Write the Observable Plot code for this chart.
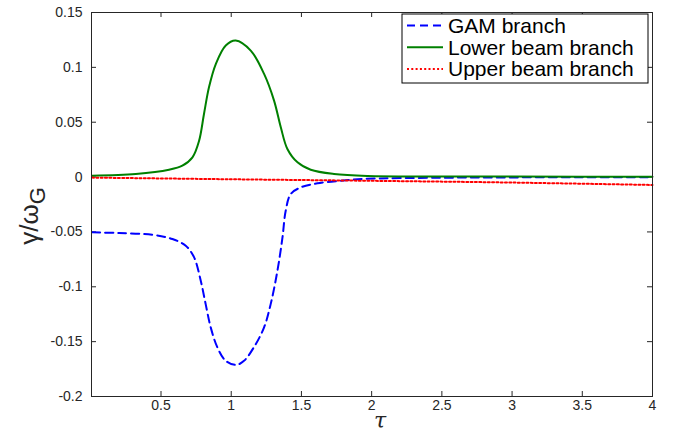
<!DOCTYPE html>
<html>
<head>
<meta charset="utf-8">
<script src="https://cdn.jsdelivr.net/npm/d3@7"></script>
<script src="https://cdn.jsdelivr.net/npm/@observablehq/plot@0.6"></script>
<style>
  html, body { margin: 0; padding: 0; background: #fff; }
  svg { display: block; }
</style>
</head>
<body>
<div id="chart"></div>
<script>
// ---- data ----
const gamTau = [0.01,0.2,0.439,0.581,0.676,0.735,0.783,0.818,0.854,0.902,0.961,1.035,1.091,1.162,1.234,1.281,1.329,1.365,1.388,1.424,1.495,1.614,1.78,1.946,2.5,3,3.5,4];
const gamVal = [-0.0504,-0.051,-0.0526,-0.0565,-0.0626,-0.073,-0.0945,-0.1158,-0.137,-0.1554,-0.1675,-0.1712,-0.1675,-0.155,-0.137,-0.1158,-0.0854,-0.055,-0.0307,-0.0154,-0.0094,-0.0057,-0.0033,-0.0017,-0.0006,-0.0003,-0.0002,-0.0001];

const lowerTau = [0.01,0.32,0.557,0.652,0.724,0.771,0.806,0.842,0.89,0.961,1.032,1.139,1.234,1.305,1.353,1.4,1.472,1.566,1.732,1.97,2.5,3,3.5,4];
const lowerVal = [0.0013,0.0028,0.0067,0.0104,0.018,0.033,0.0575,0.082,0.103,0.12,0.1245,0.1153,0.094,0.0697,0.0454,0.0256,0.0134,0.0067,0.0028,0.001,0.0006,0.0005,0.0004,0.0004];

const upperTau = [0.01,1,2,3,4];
const upperVal = [-0.0005,-0.002,-0.0034,-0.005,-0.0072];

const xTicks = [0.5,1,1.5,2,2.5,3,3.5,4];
const yTicks = [-0.2,-0.15,-0.1,-0.05,0,0.05,0.1,0.15];
const seriesNames = ["GAM branch","Lower beam branch","Upper beam branch"];
const seriesColors = ["#0000ff","#008000","#ff0000"];
const seriesDash = ["8,5", null, "2,2.3"];

// ---- build tables ----
const gam = gamTau.map((t,i) => ({t, v: gamVal[i]}));
const lower = lowerTau.map((t,i) => ({t, v: lowerVal[i]}));
const upper = upperTau.map((t,i) => ({t, v: upperVal[i]}));

const W = 675, H = 434;
const mL = 91, mR = 23, mT = 12, mB = 38;
const innerW = W - mL - mR, innerH = H - mT - mB;
const tick = 5;
const axisColor = "#262626";

const fmt = d => String(d);

const plot = Plot.plot({
  width: W, height: H,
  marginLeft: mL, marginRight: mR, marginTop: mT, marginBottom: mB,
  style: {fontFamily: "'Liberation Sans', Arial, sans-serif", fontSize: "14px", color: axisColor, background: "#fff"},
  x: {domain: [0.005, 4], ticks: xTicks, tickFormat: fmt, label: null},
  y: {domain: [-0.2, 0.15], ticks: yTicks, tickFormat: fmt, label: null},
  marks: [
    // inward ticks on all four sides
    Plot.tickX(xTicks, {x: d => d, stroke: axisColor, strokeWidth: 1, insetTop: innerH - tick}),
    Plot.tickX(xTicks, {x: d => d, stroke: axisColor, strokeWidth: 1, insetBottom: innerH - tick}),
    Plot.tickY(yTicks, {y: d => d, stroke: axisColor, strokeWidth: 1, insetRight: innerW - tick}),
    Plot.tickY(yTicks, {y: d => d, stroke: axisColor, strokeWidth: 1, insetLeft: innerW - tick}),
    Plot.axisX({ticks: xTicks, tickFormat: fmt, tickSize: 0, tickPadding: 4, fontSize: 14, label: null}),
    Plot.axisY({ticks: yTicks, tickFormat: fmt, tickSize: 0, tickPadding: 9, fontSize: 14, label: null}),
    Plot.line(gam, {x: "t", y: "v", stroke: seriesColors[0], strokeWidth: 2, strokeDasharray: seriesDash[0], curve: "catmull-rom"}),
    Plot.line(lower, {x: "t", y: "v", stroke: seriesColors[1], strokeWidth: 2, curve: "catmull-rom"}),
    Plot.line(upper, {x: "t", y: "v", stroke: seriesColors[2], strokeWidth: 2, strokeDasharray: seriesDash[2], curve: "catmull-rom"}),
    Plot.frame({stroke: axisColor, strokeWidth: 1})
  ]
});

document.getElementById("chart").appendChild(plot);

const svg = d3.select(plot);

// x-axis label (tau)
svg.append("text")
  .attr("x", 380).attr("y", 428)
  .attr("text-anchor", "middle")
  .attr("font-family", "'DejaVu Serif', serif")
  .attr("font-style", "italic")
  .attr("font-size", 22)
  .attr("fill", axisColor)
  .text("τ");

// y-axis label (gamma / omega_G)
const yl = svg.append("text")
  .attr("transform", `translate(38, ${(mT + H - mB) / 2 + 12}) rotate(-90)`)
  .attr("text-anchor", "middle")
  .attr("font-family", "'Liberation Sans', Arial, sans-serif")
  .attr("font-size", 26)
  .attr("fill", axisColor);
yl.append("tspan").text("γ/ω");
yl.append("tspan").attr("dy", 7).attr("font-size", 22).text("G");

// legend box inside the plot (top-right)
const lg = svg.append("g");
const lx = 402, ly = 14, lw = 246, lh = 69;
lg.append("rect").attr("x", lx).attr("y", ly).attr("width", lw).attr("height", lh)
  .attr("fill", "#fff").attr("stroke", "#000").attr("stroke-width", 1);
seriesNames.forEach((name, i) => {
  const cy = ly + 11.5 + i * 21.7;
  const ln = lg.append("line")
    .attr("x1", lx + 5).attr("x2", lx + 41)
    .attr("y1", cy).attr("y2", cy)
    .attr("stroke", seriesColors[i]).attr("stroke-width", 2);
  if (seriesDash[i]) ln.attr("stroke-dasharray", seriesDash[i]);
  lg.append("text")
    .attr("x", lx + 46).attr("y", cy + 7.5)
    .attr("text-anchor", "start")
    .attr("font-family", "'Liberation Sans', Arial, sans-serif")
    .attr("font-size", 21)
    .attr("fill", "#000")
    .text(name);
});
</script>
</body>
</html>
